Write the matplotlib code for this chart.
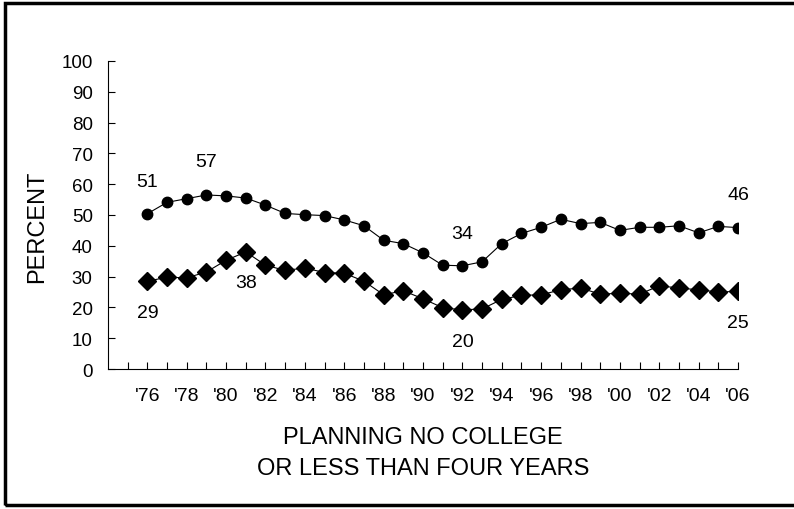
import matplotlib.pyplot as plt
from matplotlib.patches import Rectangle

plt.rcParams['font.family'] = ['Liberation Sans', 'DejaVu Sans']

years = list(range(1976, 2007))
no_college = [50.4, 54.1, 55.3, 56.5, 56.2, 55.5, 53.2, 50.5, 50.1, 49.8, 48.4, 46.5,
              41.8, 40.7, 37.7, 33.7, 33.5, 34.8, 40.7, 44.0, 46.0, 48.6, 47.2, 47.6,
              45.0, 46.0, 46.0, 46.5, 44.2, 46.3, 45.9]
less_four = [28.5, 29.8, 29.6, 31.5, 35.3, 38.0, 33.7, 32.0, 32.8, 31.3, 31.1, 28.5,
             24.1, 25.4, 22.8, 19.9, 19.2, 19.5, 22.6, 23.9, 24.1, 25.7, 26.3, 24.3,
             24.6, 24.3, 27.0, 26.3, 25.7, 25.0, 25.2]

# value labels: (text, year, y position)
labels_top = [('51', 1976, 61), ('57', 1979, 67.5), ('34', 1992, 44), ('46', 2006, 56.5)]
labels_bot = [('29', 1976, 18.5), ('38', 1981, 28), ('20', 1992, 9), ('25', 2006, 15)]

fig = plt.figure(figsize=(7.94, 5.10), dpi=100)
ax = fig.add_axes([0.136, 0.2745, 0.7935, 0.604])

ax.plot(years, no_college, color='black', lw=0.8, marker='o', ms=7.5)
ax.plot(years, less_four, color='black', lw=0.8, marker='D', ms=9.5)

for t, x, y in labels_top + labels_bot:
    ax.text(x, y, t, ha='center', va='center', fontsize=14)

ax.set_xlim(1974, 2006)
ax.set_ylim(0, 100)
ax.set_yticks(range(0, 101, 10))
ax.set_xticks(range(1975, 2007))
ax.set_xticklabels(["'%02d" % (y % 100) if y % 2 == 0 else '' for y in range(1975, 2007)])

for s in ['top', 'right']:
    ax.spines[s].set_visible(False)
ax.spines['left'].set_linewidth(0.8)
ax.spines['bottom'].set_linewidth(0.8)
ax.tick_params(axis='both', direction='in', length=5, width=0.8)
ax.tick_params(axis='y', labelsize=13.5, pad=11)
ax.tick_params(axis='x', labelsize=14, pad=13)

ax.set_ylabel('PERCENT', fontsize=17)
ax.yaxis.set_label_coords(-0.095, 0.464)
ax.set_xlabel('PLANNING NO COLLEGE\nOR LESS THAN FOUR YEARS', fontsize=17, labelpad=15.5,
              linespacing=1.55)

fig.patches.append(Rectangle((5 / 794, 4 / 510), 1.0, 502 / 510, transform=fig.transFigure,
                             fill=False, edgecolor='black', lw=2.5))

plt.savefig('out.png', dpi=100)
